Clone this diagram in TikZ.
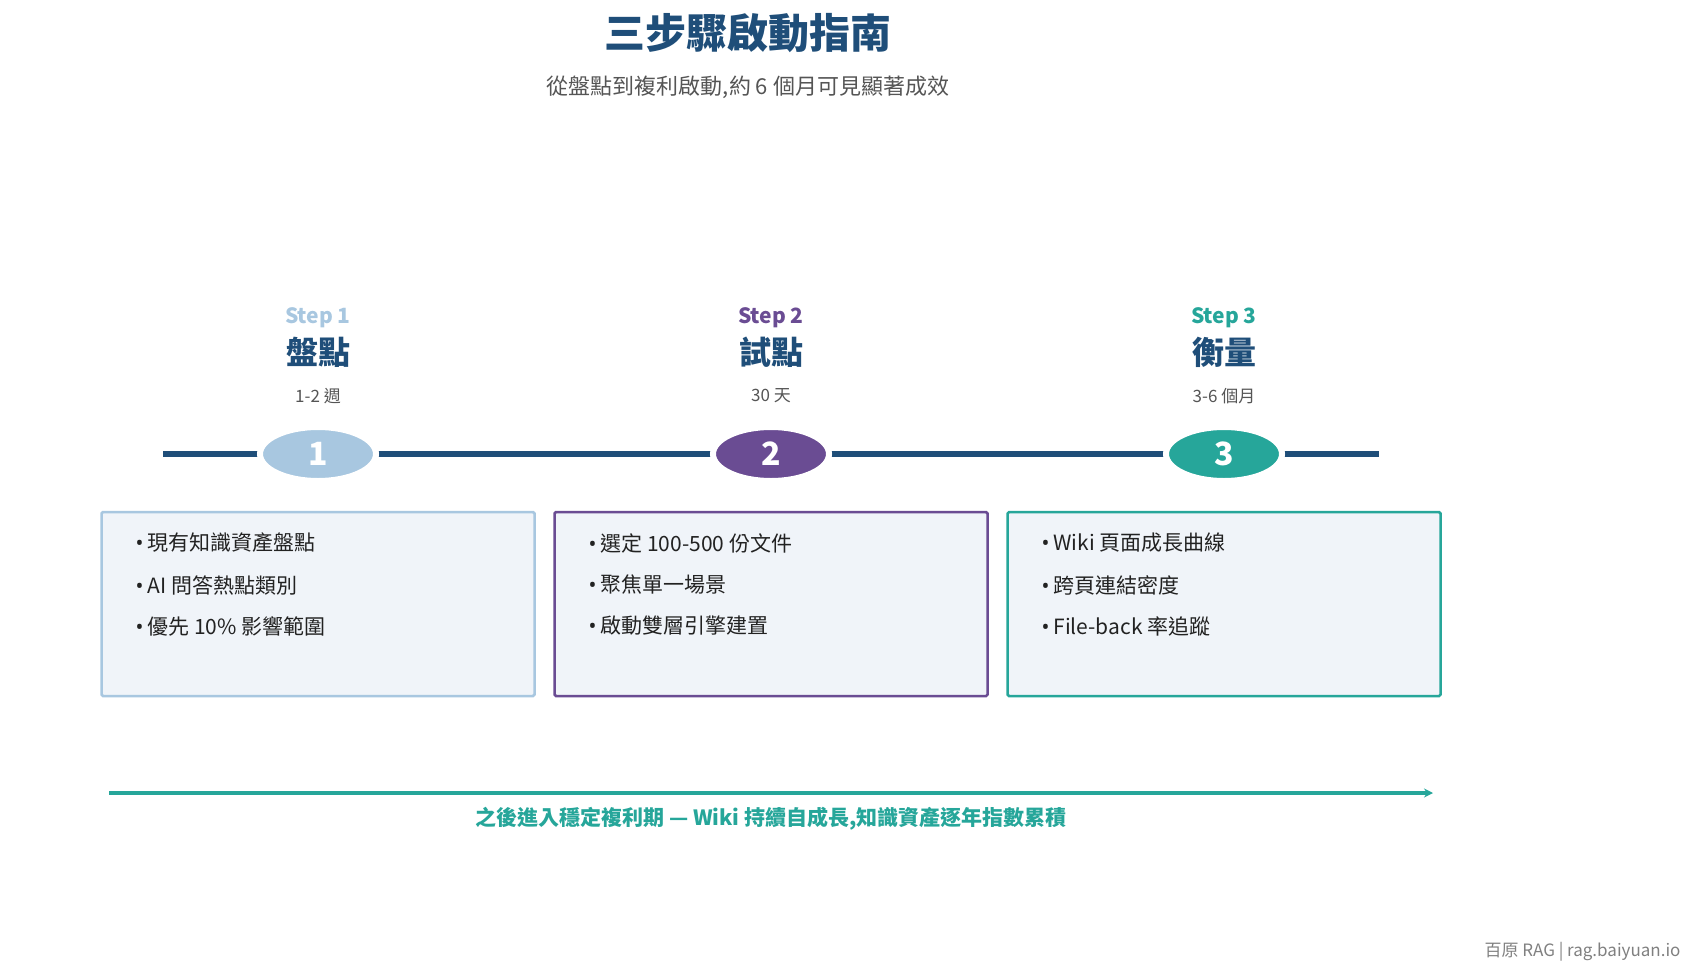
\documentclass[tikz,border=0pt]{standalone}
\usepackage{fontspec}
\setmainfont{Noto Sans CJK TC}
\newfontfamily\latinf{Noto Sans}
\usetikzlibrary{shapes.geometric,arrows.meta}
\definecolor{navy}{HTML}{1F4E79}
\definecolor{sone}{HTML}{A8C7E0}
\definecolor{stwo}{HTML}{6A4C93}
\definecolor{sthree}{HTML}{26A69A}
\definecolor{boxfill}{HTML}{F0F4F9}
\definecolor{txt}{HTML}{222222}
\definecolor{grey}{HTML}{555555}
\newcommand{\bt}{{\latinf •}\hspace{4pt}}
\begin{document}
\begin{tikzpicture}[x=1pt,y=-1pt,
  steplbl/.style={font=\bfseries\fontsize{21}{24}\selectfont},
  ttl/.style={font=\bfseries\fontsize{32}{36}\selectfont,text=navy},
  dur/.style={font=\fontsize{17}{20}\selectfont,text=grey},
  num/.style={ellipse,minimum width=116,minimum height=54,draw=white,line width=6,font=\bfseries\fontsize{32}{36}\selectfont,text=white},
  box/.style={draw,line width=2.5,fill=boxfill,minimum width=433,minimum height=184,rounded corners=1.5},
  bul/.style={anchor=west,font=\fontsize{21}{24}\selectfont,text=txt}]
\useasboundingbox (0,0) rectangle (1697,974);
\node (title) at (748,33) {\bfseries\fontsize{41}{48}\selectfont\textcolor{navy}{三步驟啟動指南}};
\node (sub) at (748,87) {\fontsize{22}{26}\selectfont\textcolor{grey}{從盤點到複利啟動,約 6 個月可見顯著成效}};
\coordinate (ls) at (163,454); \coordinate (le) at (1379,454);
\draw[navy,line width=6] (ls) -- (le);
\foreach \x/\c/\n/\s/\t/\d in {318/sone/1/Step 1/盤點/1-2 週, 771/stwo/2/Step 2/試點/30 天, 1224/sthree/3/Step 3/衡量/3-6 個月}{
  \node[num,fill=\c] (n\n) at (\x,454) {\n};
  \node[steplbl,text=\c] (s\n) at (\x,318) {\s};
  \node[ttl] (t\n) at (\x,352) {\t};
  \node[dur] (d\n) at (\x,396) {\d};
  \node[box,draw=\c] (b\n) at (\x,604) {};
}
\node[bul] (a1) at (132,543) {\bt 現有知識資產盤點};
\node[bul] (a2) at (132,585) {\bt AI 問答熱點類別};
\node[bul] (a3) at (132,626) {\bt 優先 10\% 影響範圍};
\node[bul] (b1) at (585,543) {\bt 選定 100-500 份文件};
\node[bul] (b2) at (585,585) {\bt 聚焦單一場景};
\node[bul] (b3) at (585,626) {\bt 啟動雙層引擎建置};
\node[bul] (c1) at (1038,543) {\bt Wiki 頁面成長曲線};
\node[bul] (c2) at (1038,585) {\bt 跨頁連結密度};
\node[bul] (c3) at (1038,626) {\bt File-back 率追蹤};
\coordinate (as) at (109,793); \coordinate (ae) at (1433,793);
\draw[sthree,line width=3.5,-{Stealth[length=9,width=9]}] (as) -- (ae);
\node (cap) at (771,819) {\bfseries\fontsize{21}{24}\selectfont\textcolor{sthree}{之後進入穩定複利期 — Wiki 持續自成長,知識資產逐年指數累積}};
\node[anchor=east] (foot) at (1684,952) {\fontsize{17}{20}\selectfont\textcolor{gray}{百原 RAG | rag.baiyuan.io}};
\end{tikzpicture}
\end{document}
